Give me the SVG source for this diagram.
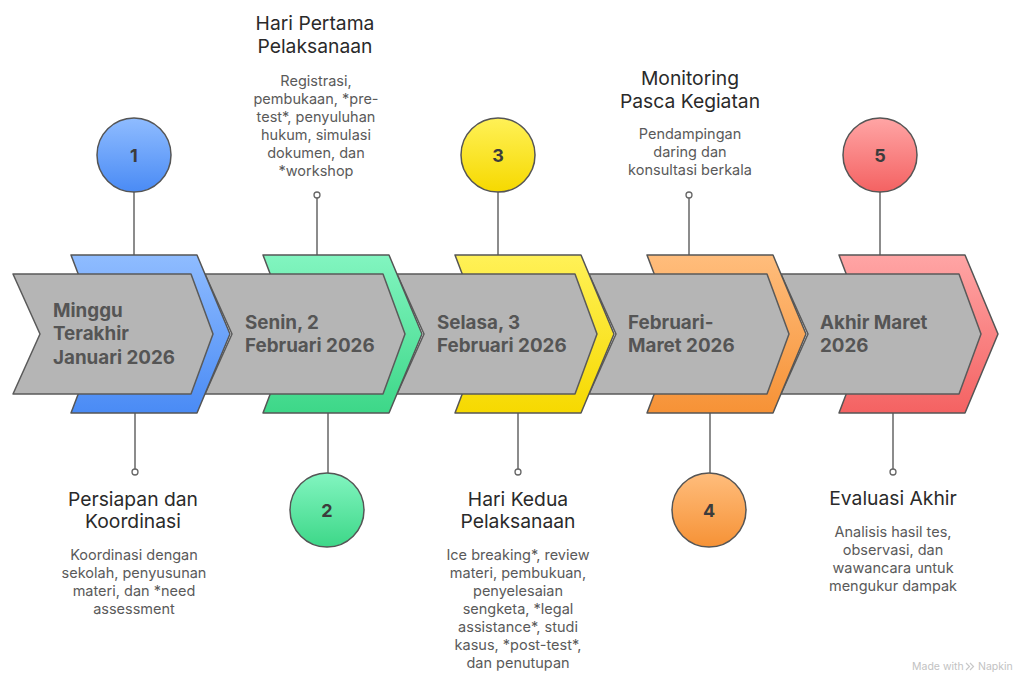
<svg xmlns="http://www.w3.org/2000/svg" width="1025" height="673" viewBox="0 0 1025 673">
<defs>
<linearGradient id="gBlue" x1="0" y1="0" x2="0" y2="1"><stop offset="0" stop-color="#8fbcff"/><stop offset="1" stop-color="#4a8bf5"/></linearGradient>
<linearGradient id="gGreen" x1="0" y1="0" x2="0" y2="1"><stop offset="0" stop-color="#82f5c0"/><stop offset="1" stop-color="#3dd788"/></linearGradient>
<linearGradient id="gYellow" x1="0" y1="0" x2="0" y2="1"><stop offset="0" stop-color="#fff157"/><stop offset="1" stop-color="#f6d900"/></linearGradient>
<linearGradient id="gOrange" x1="0" y1="0" x2="0" y2="1"><stop offset="0" stop-color="#ffbd7c"/><stop offset="1" stop-color="#f69236"/></linearGradient>
<linearGradient id="gRed" x1="0" y1="0" x2="0" y2="1"><stop offset="0" stop-color="#ffa5a5"/><stop offset="1" stop-color="#f46262"/></linearGradient>
<style>
.chev{stroke:#555;stroke-width:1.5;stroke-linejoin:round}
.gray{fill:#b5b5b5;stroke:#5a5a5a;stroke-width:1.5;stroke-linejoin:round}
.circ{stroke:#555;stroke-width:1.5}
.num{font-family:Inter,"Liberation Sans",sans-serif;font-weight:700;font-size:18px;fill:#3c3c3c;text-anchor:middle}
.date{font-family:Inter,"Liberation Sans",sans-serif;font-weight:700;font-size:18.8px;fill:#555}
.title{font-family:Inter,"Liberation Sans",sans-serif;font-size:19.3px;fill:#2a2a2a;text-anchor:middle}
.desc{font-family:Inter,"Liberation Sans",sans-serif;font-size:14.5px;fill:#5a5a5a;text-anchor:middle}
.line{stroke:#666;stroke-width:1.5;fill:none}
.pin{fill:#fff;stroke:#666;stroke-width:1.3}
.wm{font-family:Inter,"Liberation Sans",sans-serif;font-size:10.5px;fill:#c2c2c2}
</style>
</defs>
<rect width="1025" height="673" fill="#fff"/>

<g id="connectors">
<line class="line" x1="134" y1="192" x2="134" y2="255"/>
<line class="line" x1="135" y1="413" x2="135" y2="469"/>
<circle class="pin" cx="135" cy="472" r="3"/>
<line class="line" x1="317" y1="198" x2="317" y2="255"/>
<circle class="pin" cx="317" cy="195" r="3"/>
<line class="line" x1="328" y1="413" x2="328" y2="473"/>
<line class="line" x1="498" y1="192" x2="498" y2="255"/>
<line class="line" x1="518" y1="413" x2="518" y2="469"/>
<circle class="pin" cx="518" cy="472" r="3"/>
<line class="line" x1="689" y1="198" x2="689" y2="255"/>
<circle class="pin" cx="689" cy="195" r="3"/>
<line class="line" x1="710" y1="413" x2="710" y2="473"/>
<line class="line" x1="880" y1="192" x2="880" y2="255"/>
<line class="line" x1="893" y1="413" x2="893" y2="469"/>
<circle class="pin" cx="893" cy="472" r="3"/>
</g>

<g id="arrows">
<polygon class="chev" fill="url(#gRed)" points="839,255 965,255 998,334 965,413 839,413 869,334"/>
<polygon class="gray" points="781,274 959,274 981,334 959,394 781,394 808,334"/>
<polygon class="chev" fill="url(#gOrange)" points="647,255 773,255 806,334 773,413 647,413 677,334"/>
<polygon class="gray" points="589,274 767,274 789,334 767,394 589,394 616,334"/>
<polygon class="chev" fill="url(#gYellow)" points="455,255 581,255 614,334 581,413 455,413 485,334"/>
<polygon class="gray" points="397,274 575,274 597,334 575,394 397,394 424,334"/>
<polygon class="chev" fill="url(#gGreen)" points="263,255 389,255 422,334 389,413 263,413 293,334"/>
<polygon class="gray" points="205,274 383,274 405,334 383,394 205,394 232,334"/>
<polygon class="chev" fill="url(#gBlue)" points="71,255 197,255 230,334 197,413 71,413 101,334"/>
<polygon class="gray" points="13,274 191,274 213,334 191,394 13,394 40,334"/>
</g>

<g id="node1">
<circle class="circ" cx="134" cy="155" r="37" fill="url(#gBlue)"/>
<text class="num" x="134" y="161.5">1</text>
<text class="date" x="53" y="317">Minggu</text>
<text class="date" x="53" y="340">Terakhir</text>
<text class="date" x="53" y="364">Januari 2026</text>
<text class="title" x="133" y="506">Persiapan dan</text>
<text class="title" x="133" y="528">Koordinasi</text>
<text class="desc" x="134" y="560">Koordinasi dengan</text>
<text class="desc" x="134" y="578">sekolah, penyusunan</text>
<text class="desc" x="134" y="596">materi, dan *need</text>
<text class="desc" x="134" y="614">assessment</text>
</g>

<g id="node2">
<circle class="circ" cx="327" cy="510" r="37" fill="url(#gGreen)"/>
<text class="num" x="327" y="516.5">2</text>
<text class="date" x="245" y="329">Senin, 2</text>
<text class="date" x="245" y="352">Februari 2026</text>
<text class="title" x="315" y="30">Hari Pertama</text>
<text class="title" x="315" y="53">Pelaksanaan</text>
<text class="desc" x="316" y="86">Registrasi,</text>
<text class="desc" x="316" y="104">pembukaan, *pre-</text>
<text class="desc" x="316" y="122">test*, penyuluhan</text>
<text class="desc" x="316" y="140">hukum, simulasi</text>
<text class="desc" x="316" y="158">dokumen, dan</text>
<text class="desc" x="316" y="176">*workshop</text>
</g>

<g id="node3">
<circle class="circ" cx="498" cy="155" r="37" fill="url(#gYellow)"/>
<text class="num" x="498" y="161.5">3</text>
<text class="date" x="437" y="329">Selasa, 3</text>
<text class="date" x="437" y="352">Februari 2026</text>
<text class="title" x="518" y="506">Hari Kedua</text>
<text class="title" x="518" y="528">Pelaksanaan</text>
<text class="desc" x="518" y="560">Ice breaking*, review</text>
<text class="desc" x="518" y="578">materi, pembukuan,</text>
<text class="desc" x="518" y="596">penyelesaian</text>
<text class="desc" x="518" y="614">sengketa, *legal</text>
<text class="desc" x="518" y="632">assistance*, studi</text>
<text class="desc" x="518" y="650">kasus, *post-test*,</text>
<text class="desc" x="518" y="668">dan penutupan</text>
</g>

<g id="node4">
<circle class="circ" cx="709" cy="510" r="37" fill="url(#gOrange)"/>
<text class="num" x="709" y="516.5">4</text>
<text class="date" x="628" y="329">Februari-</text>
<text class="date" x="628" y="352">Maret 2026</text>
<text class="title" x="690" y="85">Monitoring</text>
<text class="title" x="690" y="108">Pasca Kegiatan</text>
<text class="desc" x="690" y="139">Pendampingan</text>
<text class="desc" x="690" y="157">daring dan</text>
<text class="desc" x="690" y="175">konsultasi berkala</text>
</g>

<g id="node5">
<circle class="circ" cx="880" cy="155" r="37" fill="url(#gRed)"/>
<text class="num" x="880" y="161.5">5</text>
<text class="date" x="820" y="329">Akhir Maret</text>
<text class="date" x="820" y="352">2026</text>
<text class="title" x="893" y="505">Evaluasi Akhir</text>
<text class="desc" x="893" y="537">Analisis hasil tes,</text>
<text class="desc" x="893" y="555">observasi, dan</text>
<text class="desc" x="893" y="573">wawancara untuk</text>
<text class="desc" x="893" y="591">mengukur dampak</text>
</g>

<g id="watermark">
<text class="wm" x="912" y="670">Made with</text>
<path d="M966,663 l3.5,3.5 l-3.5,3.5 M970,663 l3.5,3.5 l-3.5,3.5" stroke="#c8c8c8" stroke-width="1.2" fill="none"/>
<text class="wm" x="978" y="670">Napkin</text>
</g>
</svg>
